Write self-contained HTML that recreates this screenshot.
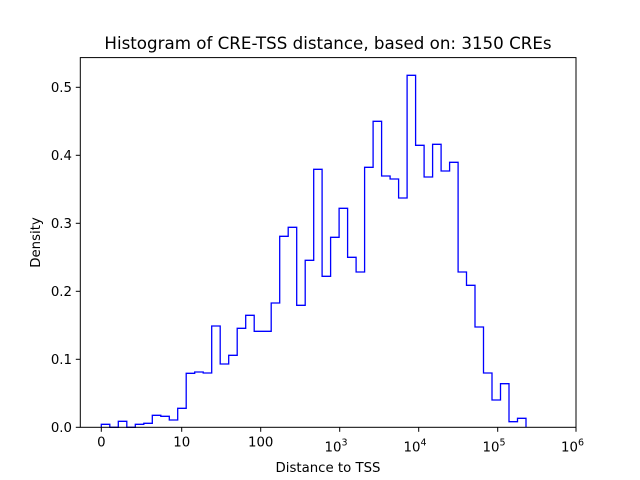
<!DOCTYPE html>
<html><head><meta charset="utf-8"><style>
html,body{margin:0;padding:0;background:#fff;}
svg{display:block;font-family:"DejaVu Sans","Liberation Sans",sans-serif;}
</style></head><body>
<svg width="640" height="480" viewBox="0 0 640 480" xmlns="http://www.w3.org/2000/svg">
<rect width="640" height="480" fill="#fff"/>
<path fill="none" stroke="#0000ff" stroke-width="1.3" stroke-linejoin="miter" d="M101.3,427.3 V424.3 H109.8 V427.3 H118.3 V421.3 H126.8 V427.3 H135.3 V424.3 H143.8 V423.3 H152.3 V415.3 H160.8 V416.3 H169.3 V420 H177.7 V408.3 H186.2 V373.3 H194.7 V372 H203.2 V373 H211.7 V326 H220.2 V364 H228.7 V355.3 H237.2 V328.3 H245.7 V315.3 H254.2 V331.3 H271.2 V303 H279.7 V236.3 H288.2 V227.3 H296.7 V305.3 H305.2 V260.3 H313.7 V169.3 H322.1 V276.3 H330.6 V237.3 H339.1 V208.3 H347.6 V257.3 H356.1 V272 H364.6 V167.3 H373.1 V121.3 H381.6 V176 H390.1 V179 H398.6 V198 H407.1 V75.3 H415.6 V145.3 H424.1 V177 H432.6 V144.3 H441.1 V171 H449.6 V162.3 H458.1 V272 H466.5 V285.3 H475 V327 H483.5 V373 H492 V400 H500.5 V383.7 H509 V421.7 H517.5 V418.3 H526 V427.3"/>
<rect x="80.3" y="57.6" width="495.7" height="369.7" fill="none" stroke="#000" stroke-width="1"/>
<g stroke="#000" stroke-width="1">
<line x1="101.3" y1="427.3" x2="101.3" y2="431.8"/>
<line x1="181.7" y1="427.3" x2="181.7" y2="431.8"/>
<line x1="260.7" y1="427.3" x2="260.7" y2="431.8"/>
<line x1="339.7" y1="427.3" x2="339.7" y2="431.8"/>
<line x1="418.7" y1="427.3" x2="418.7" y2="431.8"/>
<line x1="497.7" y1="427.3" x2="497.7" y2="431.8"/>
<line x1="576" y1="427.3" x2="576" y2="431.8"/>
<line x1="75.8" y1="427.3" x2="80.3" y2="427.3"/>
<line x1="75.8" y1="359.3" x2="80.3" y2="359.3"/>
<line x1="75.8" y1="291.3" x2="80.3" y2="291.3"/>
<line x1="75.8" y1="223.3" x2="80.3" y2="223.3"/>
<line x1="75.8" y1="155.3" x2="80.3" y2="155.3"/>
<line x1="75.8" y1="87.3" x2="80.3" y2="87.3"/>
</g>
<g font-size="13.3" fill="#000" text-anchor="end">
<text x="72" y="432">0.0</text>
<text x="72" y="364">0.1</text>
<text x="72" y="296">0.2</text>
<text x="72" y="228">0.3</text>
<text x="72" y="160">0.4</text>
<text x="72" y="92">0.5</text>
</g>
<g font-size="13.3" fill="#000" text-anchor="middle">
<text x="101.3" y="446.5">0</text>
<text x="181.7" y="446.5">10</text>
<text x="260.7" y="446.5">100</text>
<text x="336" y="451.5">10<tspan font-size="9.5" dy="-6">3</tspan></text>
<text x="415" y="451.5">10<tspan font-size="9.5" dy="-6">4</tspan></text>
<text x="494" y="451.5">10<tspan font-size="9.5" dy="-6">5</tspan></text>
<text x="572.5" y="451.5">10<tspan font-size="9.5" dy="-6">6</tspan></text>
<text x="328" y="472">Distance to TSS</text>
<text x="328" y="49" font-size="16.7">Histogram of CRE-TSS distance, based on: 3150 CREs</text>
</g>
<text x="40" y="242.5" font-size="13.3" text-anchor="middle" transform="rotate(-90 40 242.5)">Density</text>
</svg>
</body></html>
